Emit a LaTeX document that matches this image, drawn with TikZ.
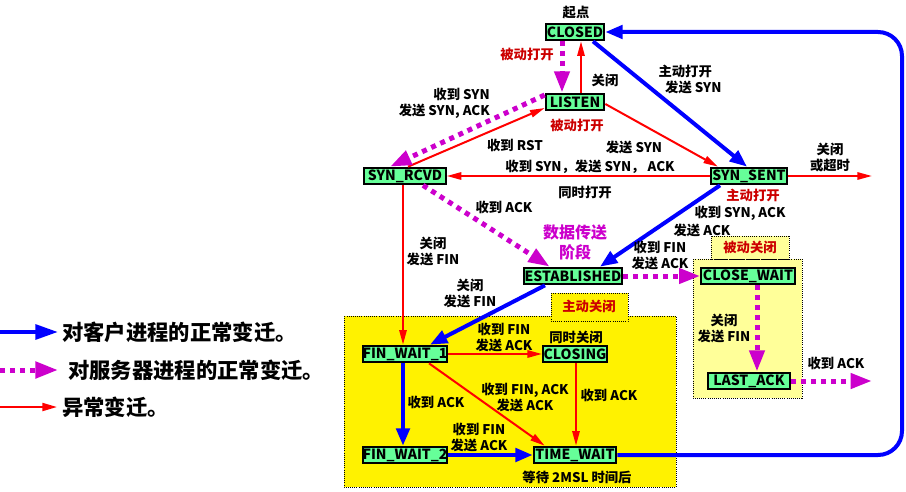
\documentclass[tikz,border=0pt]{standalone}
\usepackage{fontspec}
\setmainfont{Noto Sans CJK SC}
\usetikzlibrary{arrows.meta,calc}
\definecolor{stg}{RGB}{102,255,153}
\definecolor{mag}{RGB}{204,0,204}
\definecolor{dred}{RGB}{204,0,0}
\definecolor{pyel}{RGB}{255,255,153}
\begin{document}
\begin{tikzpicture}[x=0.75pt,y=-0.75pt,
 st/.style={draw=black,line width=1.5pt,fill=stg,inner sep=0pt,minimum height=12.5pt,font=\bfseries\fontsize{10.5}{12}\selectfont},
 lb/.style={font=\bfseries\fontsize{10}{12}\selectfont,align=center,inner sep=0pt},
 rl/.style={lb,text=dred},
 area/.style={draw=black,densely dotted,line width=0.6pt},
 bl/.style={draw=blue,line width=3pt,-{Triangle[length=13pt,width=10pt]}},
 rd/.style={draw=red,line width=1.5pt,-{Triangle[length=11pt,width=5.5pt]}},
 mg/.style={draw=mag,line width=3.75pt,dash pattern=on 3.75pt off 3.75pt,-{Triangle[length=16pt,width=11pt]}},
 lgt/.style={anchor=west,font=\bfseries\fontsize{16}{18}\selectfont,inner sep=0pt},
 ]
\fill[white] (0,0) rectangle (906,492);
\useasboundingbox (0,0) rectangle (906,492);

% regions
\filldraw[area,fill=yellow] (344,316) rectangle (676,487);
\filldraw[area,fill=yellow] (551,293) rectangle (628,321);
\node[rl] (lzd) at (589,306) {主动关闭};
\filldraw[area,fill=pyel] (693,259) rectangle (802,398);
\filldraw[area,fill=pyel] (711,236) rectangle (789,259);
\node[rl] (lbd) at (750,247) {被动关闭};

% states
\node[lb] (lqd) at (576,13) {起点};
\node[st,minimum width=44pt] (closed) at (575,32) {CLOSED};
\node[st,minimum width=44pt] (listen) at (575,102) {LISTEN};
\node[st,minimum width=61pt] (synrcvd) at (405,176) {SYN\_RCVD};
\node[st,minimum width=57pt] (synsent) at (749,176) {SYN\_SENT};
\node[st,minimum width=74pt] (est) at (573,276) {ESTABLISHED};
\node[st,minimum width=70pt] (cw) at (748,276) {CLOSE\_WAIT};
\node[st,minimum width=62pt] (la) at (749,381) {LAST\_ACK};
\node[st,minimum width=61pt] (fw1) at (405,354) {FIN\_WAIT\_1};
\node[st,minimum width=48pt] (closing) at (575,354) {CLOSING};
\node[st,minimum width=61pt] (fw2) at (405,455) {FIN\_WAIT\_2};
\node[st,minimum width=62pt] (tw) at (575,455) {TIME\_WAIT};

% free ends
\coordinate (outa) at (872,176);
\coordinate (outb) at (872,381);

% edges
\draw[mg] ($(closed.south)+(-13,0)$) -- ($(listen.north)+(-13,0)$);
\draw[rd] ($(listen.north)+(6,0)$) -- ($(closed.south)+(6,0)$);
\draw[bl] ($(closed.south)+(18,0)$) -- ($(synsent.north)+(-2,0)$);
\draw[rd] ($(listen.east)+(0,2)$) -- ($(synsent.north west)+(8,0)$);
\draw[rd] ($(synrcvd.north)+(3,0)$) -- ($(listen.west)+(0,6)$);
\draw[mg] ($(listen.west)+(0,-7)$) -- ($(synrcvd.north)+(-15,0)$);
\draw[rd] (synsent.west) -- (synrcvd.east);
\draw[rd] (synsent.east) -- (outa);
\draw[mg] ($(synrcvd.south)+(18,0)$) -- ($(est.north west)+(27,0)$);
\draw[bl] ($(synsent.south)+(-29,0)$) -- ($(est.north)+(27,0)$);
\draw[mg] (est.east) -- (cw.west);
\draw[rd] ($(synrcvd.south)+(-2,0)$) -- ($(fw1.north)+(-2,0)$);
\draw[bl] ($(est.south)+(-28,0)$) -- ($(fw1.north)+(25,0)$);
\draw[mg] ($(cw.south)+(9,0)$) -- ($(la.north)+(8,0)$);
\draw[mg] (la.east) -- (outb);
\draw[rd] (fw1.east) -- (closing.west);
\draw[bl] ($(fw1.south)+(-2,0)$) -- ($(fw2.north)+(-2,0)$);
\draw[rd] ($(fw1.south)+(24,0)$) -- ($(tw.north west)+(12,0)$);
\draw[rd] ($(closing.south)+(1,0)$) -- ($(tw.north)+(1,0)$);
\draw[bl] (fw2.east) -- (tw.west);
\draw[bl,rounded corners=18pt] (tw.east) -- (902,455) -- (902,32) -- (closed.east);

% labels
\node[rl] (l1) at (527,54) {被动打开};
\node[lb] (l2) at (605,80) {关闭};
\node[lb,align=left] (l3) at (690,79) {主动打开\\\hspace*{5pt}发送 SYN};
\node[lb,align=right,anchor=east] (l4) at (490,103) {收到 SYN\\发送 SYN, ACK};
\node[rl] (l5) at (577,125) {被动打开};
\node[lb] (l6) at (515,145) {收到 RST};
\node[lb] (l7) at (634,147) {发送 SYN};
\node[lb] (l8) at (590,167) {收到 SYN，发送 SYN， ACK};
\node[lb] (l9) at (585,192) {同时打开};
\node[lb] (l10) at (830,157) {关闭\\或超时};
\node[rl] (l11) at (753,195) {主动打开};
\node[lb] (l12) at (504,207) {收到 ACK};
\node[lb] (l13) at (433,251) {关闭\\发送 FIN};
\node[lb,text=mag,font=\bfseries\fontsize{12}{15}\selectfont] (l14) at (575,242) {数据传送\\阶段};
\node[lb] (l15) at (740,213) {收到 SYN, ACK};
\node[lb] (l15b) at (702,230) {发送 ACK};
\node[lb] (l16) at (660,255) {收到 FIN\\发送 ACK};
\node[lb] (l17) at (470,293) {关闭\\发送 FIN};
\node[lb] (l18) at (724,328) {关闭\\发送 FIN};
\node[lb] (l19) at (836,363) {收到 ACK};
\node[lb] (l20) at (504,337) {收到 FIN\\发送 ACK};
\node[lb] (l21) at (576,337) {同时关闭};
\node[lb] (l22) at (436,402) {收到 ACK};
\node[lb] (l23) at (525,397) {收到 FIN, ACK\\发送 ACK};
\node[lb] (l24) at (609,395) {收到 ACK};
\node[lb] (l25) at (479,437) {收到 FIN\\发送 ACK};
\node[lb] (l26) at (577,477) {等待 2MSL 时间后};

% legend
\coordinate (g1a) at (0,332); \coordinate (g1b) at (58,332);
\coordinate (g2a) at (0,370); \coordinate (g2b) at (58,370);
\coordinate (g3a) at (0,407); \coordinate (g3b) at (57,407);
\draw[blue,line width=3pt,-{Triangle[length=17pt,width=11pt]}] (g1a) -- (g1b);
\draw[mag,line width=3.75pt,dash pattern=on 3.75pt off 3.75pt,-{Triangle[length=17pt,width=12pt]}] (g2a) -- (g2b);
\draw[red,line width=1.5pt,-{Triangle[length=11pt,width=6pt]}] (g3a) -- (g3b);
\node[lgt] (t1) at (62,332) {对客户进程的正常变迁。};
\node[lgt] (t2) at (68,370) {对服务器进程的正常变迁。};
\node[lgt] (t3) at (62,407) {异常变迁。};
\end{tikzpicture}
\end{document}
